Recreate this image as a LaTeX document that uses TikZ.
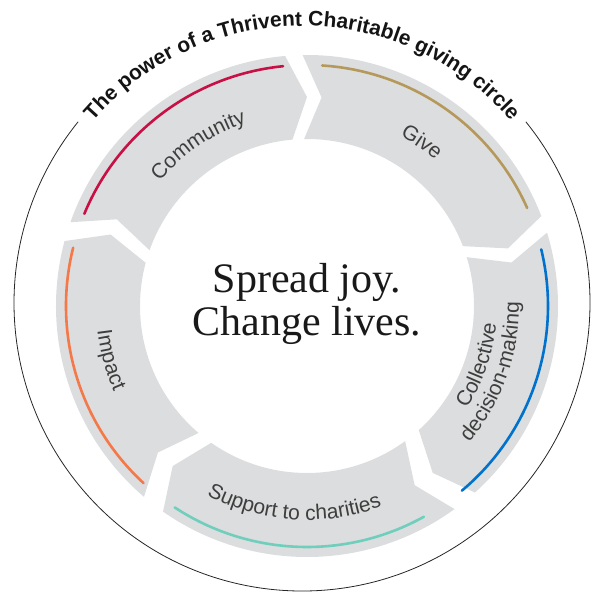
\documentclass[tikz,border=0pt]{standalone}
\usepackage{fontspec}
\newfontfamily\labelfont{Liberation Sans}
\newfontfamily\mottofont{Liberation Serif}
\usetikzlibrary{decorations.text}
\definecolor{ringgray}{RGB}{220,221,222}
\definecolor{labelgray}{RGB}{62,62,62}
\definecolor{communityred}{RGB}{200,16,70}
\definecolor{givegold}{RGB}{181,153,92}
\definecolor{decisionblue}{RGB}{0,114,206}
\definecolor{supportteal}{RGB}{112,206,188}
\definecolor{impactorange}{RGB}{245,120,72}

\begin{document}
\begin{tikzpicture}[x=1pt,y=1pt,
  ringpart/.style={fill=ringgray},
  ringband/.style={line width=2.6pt, line cap=round},
  seglabel/.style={decorate, decoration={text along path, text align=center, text color=labelgray}},
  motto/.style={anchor=base, inner sep=0pt, font=\mottofont\fontsize{42}{45}\selectfont, text=black!90}]

\useasboundingbox (-307,-289) rectangle (285,306);

\begin{scope}[shift={(-5,3)}]
\draw[line width=0.8pt, black!85] (39:288) arc[start angle=39, end angle=-219, radius=288pt];
\path[decorate, decoration={text along path, text align=center, text color=black!92,
  text={|\labelfont\bfseries\fontsize{21}{25}\selectfont|The power of a Thrivent Charitable giving circle}}]
  (150:277) arc[start angle=150, end angle=30, radius=277pt];
\end{scope}

\fill[ringpart] (160.5:251) arc[start angle=160.5, end angle=95, radius=251pt] -- (90:209)
  -- (95:167) arc[start angle=95, end angle=160.5, radius=167pt] -- (155.5:209) -- cycle;
\fill[ringpart] (91:251) arc[start angle=91, end angle=21, radius=251pt] -- (16:209)
  -- (21:167) arc[start angle=21, end angle=91, radius=167pt] -- (86:209) -- cycle;
\fill[ringpart] (17:251) arc[start angle=17, end angle=-48, radius=251pt] -- (-53:209)
  -- (-48:167) arc[start angle=-48, end angle=17, radius=167pt] -- (12:209) -- cycle;
\fill[ringpart] (-54:251) arc[start angle=-54, end angle=-125, radius=251pt] -- (-130:209)
  -- (-125:167) arc[start angle=-125, end angle=-54, radius=167pt] -- (-59:209) -- cycle;
\fill[ringpart] (-130.5:251) arc[start angle=-130.5, end angle=-195, radius=251pt] -- (-200:209)
  -- (-195:167) arc[start angle=-195, end angle=-130.5, radius=167pt] -- (-135.5:209) -- cycle;

\draw[ringband, communityred] (157.5:241) arc[start angle=157.5, end angle=95.7, radius=241pt];
\draw[ringband, givegold] (86.4:241) arc[start angle=86.4, end angle=24, radius=241pt];
\draw[ringband, decisionblue] (13.6:241) arc[start angle=13.6, end angle=-50, radius=241pt];
\draw[ringband, supportteal] (-61:241) arc[start angle=-61, end angle=-123.3, radius=241pt];
\draw[ringband, impactorange] (-132.7:241) arc[start angle=-132.7, end angle=-194, radius=241pt];

\path[seglabel, decoration={text={|\labelfont\fontsize{21}{25}\selectfont|Community}}]
  (164:193) arc[start angle=164, end angle=84, radius=193pt];
\path[seglabel, decoration={text={|\labelfont\fontsize{21}{25}\selectfont|Give}}]
  (95:194) arc[start angle=95, end angle=15, radius=194pt];
\path[seglabel, decoration={text={|\labelfont\fontsize{21}{25}\selectfont|Collective}}]
  (-59:190) arc[start angle=-59, end angle=21, radius=190pt];
\path[seglabel, decoration={text={|\labelfont\fontsize{21}{25}\selectfont|decision-making}}]
  (-60:212) arc[start angle=-60, end angle=21, radius=212pt];
\path[seglabel, decoration={text={|\labelfont\fontsize{21}{25}\selectfont|Support to charities}}]
  (-143.7:214) arc[start angle=-143.7, end angle=-43.7, radius=214pt];
\path[seglabel, decoration={text={|\labelfont\fontsize{21}{25}\selectfont|Impact}}]
  (155.3:211) arc[start angle=155.3, end angle=235.3, radius=211pt];

\node[motto] (spread) at (0,14) {Spread joy.};
\node[motto] (change) at (0,-29) {Change lives.};
\end{tikzpicture}
\end{document}
